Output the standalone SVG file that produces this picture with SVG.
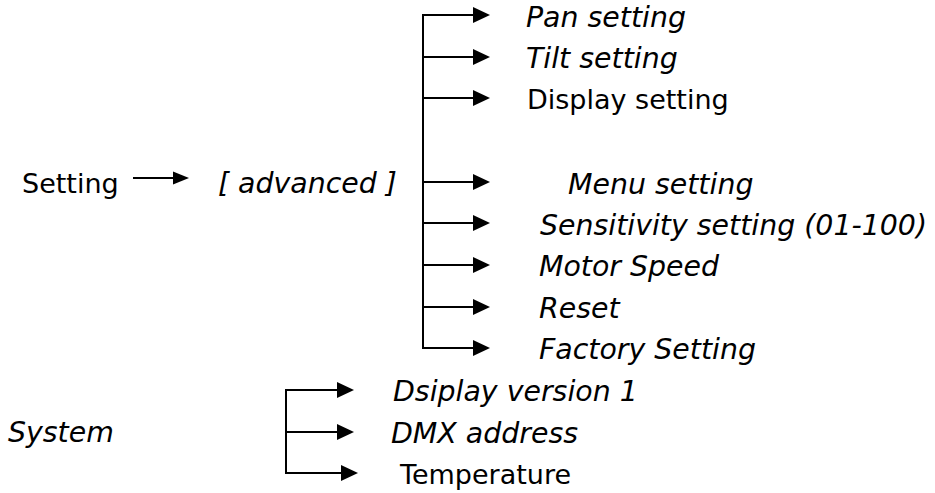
<svg xmlns="http://www.w3.org/2000/svg" xmlns:xlink="http://www.w3.org/1999/xlink" width="935" height="493" viewBox="0 0 935 493">
<style>
text{font-family:"DejaVu Sans","Noto Sans",sans-serif;font-size:27px;fill:#000}
.i{font-style:italic;font-size:28.4px}
.c{stroke:#000;stroke-width:2;fill:none}
.h{fill:#000}
</style>
<defs>
<path id="head" class="h" d="M-17,-8 L0,0 L-17,8 z"/>
<path id="head2" class="h" d="M-16,-6.5 L0,0 L-16,6.5 z"/>
</defs>
<rect width="935" height="493" fill="#fff"/>
<g id="connectors">
<line class="c" x1="133" y1="178" x2="176" y2="178"/>
<use xlink:href="#head2" x="189" y="178"/>
<polyline class="c" points="475,15 423,15 423,348 475,348"/>
<line class="c" x1="423" y1="57" x2="475" y2="57"/>
<line class="c" x1="423" y1="98" x2="475" y2="98"/>
<line class="c" x1="423" y1="182" x2="475" y2="182"/>
<line class="c" x1="423" y1="223" x2="475" y2="223"/>
<line class="c" x1="423" y1="265" x2="475" y2="265"/>
<line class="c" x1="423" y1="307" x2="475" y2="307"/>
<use xlink:href="#head" x="490" y="15"/>
<use xlink:href="#head" x="490" y="57"/>
<use xlink:href="#head" x="490" y="98"/>
<use xlink:href="#head" x="490" y="182"/>
<use xlink:href="#head" x="490" y="223"/>
<use xlink:href="#head" x="490" y="265"/>
<use xlink:href="#head" x="490" y="307"/>
<use xlink:href="#head" x="490" y="348"/>
<polyline class="c" points="340,390 286,390 286,473 344,473"/>
<line class="c" x1="286" y1="432" x2="340" y2="432"/>
<use xlink:href="#head" x="354" y="390"/>
<use xlink:href="#head" x="354" y="432"/>
<use xlink:href="#head" x="358" y="473"/>
</g>
<g id="setting"><text x="22" y="193">Setting</text></g>
<g id="advanced"><text class="i" x="218" y="193">[ advanced ]</text></g>
<g id="pan"><text class="i" x="526" y="27">Pan setting</text></g>
<g id="tilt"><text class="i" x="526" y="68">Tilt setting</text></g>
<g id="display"><text x="527" y="109">Display setting</text></g>
<g id="menu"><text class="i" x="568" y="194">Menu setting</text></g>
<g id="sensitivity"><text class="i" x="540" y="235">Sensitivity setting (01-100)</text></g>
<g id="motor"><text class="i" x="539" y="276">Motor Speed</text></g>
<g id="reset"><text class="i" x="539" y="318">Reset</text></g>
<g id="factory"><text class="i" x="539" y="359">Factory Setting</text></g>
<g id="system"><text class="i" x="8" y="442">System</text></g>
<g id="version"><text class="i" x="393" y="401">Dsiplay version 1</text></g>
<g id="dmx"><text class="i" x="391" y="443">DMX address</text></g>
<g id="temperature"><text x="400" y="484">Temperature</text></g>
</svg>
